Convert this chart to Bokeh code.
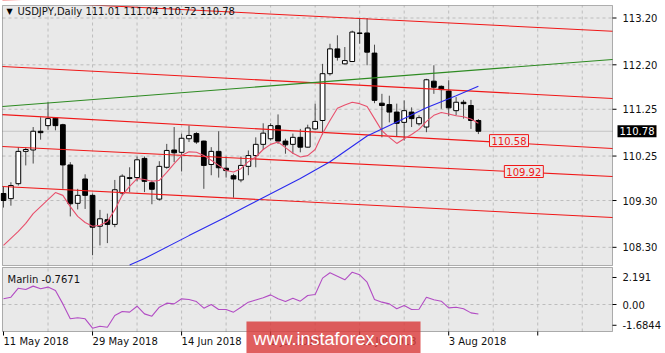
from bokeh.plotting import figure
from bokeh.models import ColumnDataSource, Label, Range1d, BoxAnnotation
from bokeh.embed import file_html
from bokeh.resources import INLINE

# ---------------- data ----------------
opens = [109.45, 109.34, 109.66, 110.35, 110.38, 110.78, 110.90, 111.06, 110.92, 110.06,
         109.24, 109.76, 109.41, 108.75, 108.89, 108.79, 109.46, 109.77, 109.79, 110.20,
         109.68, 109.33, 110.01, 110.38, 110.33, 110.62, 110.73, 110.57, 110.07, 110.35,
         109.99, 109.83, 109.74, 110.03, 110.26, 110.50, 110.62, 110.90, 110.57, 110.50,
         110.65, 110.44, 110.83, 111.01, 112.01, 112.54, 112.22, 112.27, 112.88, 112.88,
         112.45, 111.38, 111.35, 111.19, 110.97, 111.19, 110.94, 110.87, 111.85, 111.74,
         111.64, 111.22, 111.40, 111.33, 111.01]
highs = [109.60, 109.69, 110.44, 110.43, 110.87, 111.08, 111.40, 111.08, 110.94, 110.12,
         109.55, 109.86, 109.45, 109.10, 109.02, 109.74, 109.86, 110.01, 110.24, 110.24,
         109.73, 110.14, 110.51, 110.87, 110.73, 110.90, 110.76, 110.58, 110.44, 110.78,
         110.24, 109.87, 110.24, 110.37, 110.65, 110.95, 110.95, 111.14, 110.62, 110.73,
         110.83, 110.92, 111.37, 112.22, 112.65, 112.83, 112.58, 112.93, 113.18, 113.20,
         112.63, 111.58, 111.54, 111.37, 111.44, 111.29, 111.12, 111.90, 112.19, 111.76,
         111.87, 111.51, 111.45, 111.45, 111.04]
lows = [109.15, 109.19, 109.62, 110.05, 110.09, 110.60, 110.81, 110.80, 109.55, 108.96,
        109.11, 109.12, 108.13, 108.34, 108.39, 108.73, 109.41, 109.48, 109.71, 109.48,
        109.22, 109.30, 109.98, 110.12, 109.92, 110.55, 110.51, 109.55, 109.84, 109.79,
        109.79, 109.36, 109.69, 109.84, 110.01, 110.38, 110.58, 110.51, 110.30, 110.30,
        110.33, 110.43, 110.81, 110.71, 111.97, 112.29, 112.21, 112.26, 112.65, 112.19,
        111.38, 110.65, 110.97, 110.67, 110.58, 110.87, 110.90, 110.76, 111.58, 111.26,
        111.10, 111.12, 111.05, 110.83, 110.72]
closes = [109.30, 109.62, 110.35, 110.39, 110.78, 110.75, 111.05, 110.90, 110.06, 109.23,
          109.41, 109.41, 108.73, 108.91, 108.79, 109.53, 109.82, 109.79, 110.17, 109.71,
          109.54, 110.03, 110.37, 110.32, 110.63, 110.69, 110.55, 110.05, 110.35, 110.00,
          109.94, 109.76, 110.05, 110.26, 110.50, 110.74, 110.90, 110.57, 110.49, 110.65,
          110.44, 110.85, 110.99, 112.01, 112.54, 112.36, 112.29, 112.90, 112.87, 112.47,
          111.44, 111.33, 111.19, 110.95, 111.22, 111.05, 111.07, 111.88, 111.72, 111.67,
          111.28, 111.40, 111.37, 111.01, 110.78]

ma_fast = [108.34, 108.49, 108.64, 108.81, 109.02, 109.17, 109.32, 109.47, 109.41, 109.17,
           108.96, 108.83, 108.75, 108.77, 108.85, 109.10, 109.41, 109.60, 109.77, 109.75,
           109.71, 109.73, 109.90, 110.09, 110.26, 110.34, 110.33, 110.26, 110.16, 110.05,
           109.94, 109.91, 109.98, 110.13, 110.23, 110.39, 110.50, 110.55, 110.43, 110.31,
           110.23, 110.26, 110.39, 110.73, 111.01, 111.27, 111.34, 111.40, 111.37, 111.31,
           111.05, 110.79, 110.65, 110.52, 110.62, 110.71, 110.82, 110.99, 111.12, 111.18,
           111.15, 111.11, 111.09, 111.04, 110.95]

ma_slow_idx = [17, 19, 25, 30, 33, 40, 44, 49, 53, 57, 61, 64]
ma_slow = [107.92, 108.06, 108.55, 108.95, 109.20, 109.77, 110.13, 110.68, 110.98, 111.28, 111.54, 111.74]

marlin = [0.46, 0.59, 1.32, 1.22, 1.49, 1.27, 1.41, 1.14, 0.05, -1.16,
          -1.08, -1.16, -1.92, -1.76, -1.84, -0.89, -0.57, -0.62, -0.14, -0.76,
          -0.95, -0.22, 0.11, 0.05, 0.46, 0.41, 0.24, -0.30, 0.00, -0.41,
          -0.41, -0.62, -0.22, 0.19, 0.37, 0.54, 0.78, 0.46, 0.24, 0.51,
          0.27, 0.73, 0.81, 2.14, 2.57, 2.30, 2.00, 2.62, 2.41, 1.81,
          0.41, 0.19, 0.05, -0.35, -0.08, -0.41, -0.38, 0.59, 0.38, 0.27,
          -0.27, -0.22, -0.35, -0.68, -0.77]

# trend / channel lines: prices at the left and right edge of the price pane
chan1 = [113.573, 112.918]
chan2 = [112.165, 111.480]
chan3 = [111.136, 110.410]
chan4 = [110.453, 109.813]
chan5 = [109.598, 108.937]
green_line = [111.310, 112.313]

price_ticks = [108.30, 109.30, 110.25, 111.25, 112.20, 113.20]
price_labels = ["108.30", "109.30", "110.25", "111.25", "112.20", "113.20"]
osc_ticks = [-1.6844, 0.0, 2.191]
osc_labels = ["-1.6844", "0.00", "2.191"]
date_idx = [0, 12, 24, 36, 48, 60]
date_labels = ["11 May 2018", "29 May 2018", "14 Jun 2018", "2 Jul 2018", "18 Jul 2018", "3 Aug 2018"]
axis_tick_idx = [0, 12, 24, 36, 48, 60, 72]
grid_idx = [6, 12, 18, 24, 30, 36, 42, 48, 54, 60, 66, 72, 78]

last_price = 110.78
level_a = 110.58
level_b = 109.92
title_text = "USDJPY,Daily  111.01 111.04 110.72 110.78"
osc_title = "Marlin -0.7671"

# ---------------- layout of the panes (in the plot's own units) ----------------
PANE_L, PANE_R = -0.135, 82.075          # price & oscillator panes, bar-index units
MAIN_TOP, MAIN_BOT = 113.467, 107.911    # price pane, price units
OSC_TOP, OSC_BOT = 3.0, -2.19            # oscillator pane, oscillator units
TICK_X = 0.54                            # 4 px in bar units
TICK_Y = 0.324                           # 4 px in oscillator units
LABEL_X = 83.42                          # x of right-axis labels
DATE_Y = -3.0                            # y of the date labels (osc units)

FONT = "DejaVu Sans"
BG = "#E9E9E9"
GRID = "#BDBDBD"
TXT = "#111111"
idx = list(range(len(opens)))

p = figure(width=665, height=353, x_range=Range1d(-0.4043, 89.218),
           y_range=Range1d(106.031, 113.574), toolbar_location=None,
           output_backend="svg", min_border=0, min_border_left=0, min_border_right=0,
           min_border_top=0, min_border_bottom=0, x_axis_location=None,
           y_axis_location=None, background_fill_color="white",
           border_fill_color="white", outline_line_color=None)
p.grid.visible = False
p.extra_y_ranges = {"osc": Range1d(-3.973, 24.649)}

# pane backgrounds
p.add_layout(BoxAnnotation(left=PANE_L, right=PANE_R, top=MAIN_TOP, bottom=MAIN_BOT,
                           fill_color=BG, fill_alpha=1, line_color=None, level="underlay"))
p.add_layout(BoxAnnotation(left=PANE_L, right=PANE_R, top=OSC_TOP, bottom=OSC_BOT,
                           y_range_name="osc", fill_color=BG, fill_alpha=1,
                           line_color=None, level="underlay"))

# grid lines (price pane)
p.segment(x0=grid_idx, y0=[MAIN_BOT] * len(grid_idx), x1=grid_idx, y1=[MAIN_TOP] * len(grid_idx),
          line_color=GRID, line_dash="3 3", line_width=1)
p.segment(x0=[PANE_L] * len(price_ticks), y0=price_ticks, x1=[PANE_R] * len(price_ticks),
          y1=price_ticks, line_color=GRID, line_dash="3 3", line_width=1)
# grid lines (oscillator pane)
p.segment(x0=grid_idx, y0=[OSC_BOT] * len(grid_idx), x1=grid_idx, y1=[OSC_TOP] * len(grid_idx),
          line_color=GRID, line_dash="3 3", line_width=1, y_range_name="osc")
p.segment(x0=[PANE_L], y0=[0.0], x1=[PANE_R], y1=[0.0], line_color=GRID,
          line_dash="3 3", line_width=1, y_range_name="osc")

# current price line
p.segment(x0=[PANE_L], y0=[last_price], x1=[PANE_R], y1=[last_price],
          line_color="#C4C4C4", line_width=1)

# candles
src = ColumnDataSource(dict(x=idx, h=highs, l=lows))
up = [i for i in idx if closes[i] >= opens[i]]
dn = [i for i in idx if closes[i] < opens[i]]
src_up = ColumnDataSource(dict(x=up, top=[closes[i] for i in up], bot=[opens[i] for i in up]))
src_dn = ColumnDataSource(dict(x=dn, top=[opens[i] for i in dn], bot=[closes[i] for i in dn]))
p.segment(x0="x", y0="l", x1="x", y1="h", source=src, line_color="#4A4A4A", line_width=1)
p.vbar(x="x", width=0.64, top="top", bottom="bot", source=src_up,
       fill_color="white", line_color="black", line_width=1)
p.vbar(x="x", width=0.64, top="top", bottom="bot", source=src_dn,
       fill_color="black", line_color="black", line_width=1)

# lines
edge_x = [PANE_L, PANE_R]
for ch in (chan1, chan2, chan3, chan4, chan5):
    p.line(edge_x, ch, line_color="#F01818", line_width=1.1)
p.line(edge_x, green_line, line_color="#2E8B22", line_width=1.1)
p.line(idx, ma_fast, line_color="#E8506C", line_width=1.1)
p.line(ma_slow_idx, ma_slow, line_color="#2A2AEE", line_width=1.1)

# oscillator
p.line(idx, marlin, line_color="#B24CC4", line_width=1.1, y_range_name="osc")

# cover anything above the price pane (the top channel line runs out of it)
p.add_layout(BoxAnnotation(bottom=MAIN_TOP, fill_color="white", fill_alpha=1,
                           line_color=None, level="annotation"))

# pane borders
p.add_layout(BoxAnnotation(left=PANE_L, right=PANE_R, top=MAIN_TOP, bottom=MAIN_BOT,
                           fill_color=None, fill_alpha=0, line_color="black", line_width=1,
                           level="overlay"))
p.add_layout(BoxAnnotation(left=PANE_L, right=PANE_R, top=OSC_TOP, bottom=OSC_BOT,
                           y_range_name="osc", fill_color=None, fill_alpha=0,
                           line_color="black", line_width=1, level="overlay"))

# right-axis ticks and labels
p.segment(x0=[PANE_R] * len(price_ticks), y0=price_ticks, x1=[PANE_R + TICK_X] * len(price_ticks),
          y1=price_ticks, line_color="black", line_width=1)
p.segment(x0=[PANE_R] * len(osc_ticks), y0=osc_ticks, x1=[PANE_R + TICK_X] * len(osc_ticks),
          y1=osc_ticks, line_color="black", line_width=1, y_range_name="osc")
for t, s in zip(price_ticks, price_labels):
    p.add_layout(Label(x=LABEL_X, y=t, text=s, text_align="left", text_baseline="middle",
                       text_font=FONT, text_font_size="10px", text_color=TXT, level="overlay"))
for t, s in zip(osc_ticks, osc_labels):
    p.add_layout(Label(x=LABEL_X, y=t, y_range_name="osc", text=s, text_align="left",
                       text_baseline="middle", text_font=FONT, text_font_size="10px",
                       text_color=TXT, level="overlay"))

# bottom date ticks and labels
p.segment(x0=axis_tick_idx, y0=[OSC_BOT] * len(axis_tick_idx), x1=axis_tick_idx,
          y1=[OSC_BOT - TICK_Y] * len(axis_tick_idx), line_color="black", line_width=1,
          y_range_name="osc")
for d, s in zip(date_idx, date_labels):
    p.add_layout(Label(x=d, y=DATE_Y, y_range_name="osc", text=s, text_align="left",
                       text_baseline="middle", text_font=FONT, text_font_size="10px",
                       text_color=TXT, level="overlay"))

# level labels and current price box
p.add_layout(Label(x=65.5, y=level_a, text="110.58", text_align="left", text_baseline="middle",
                   text_font=FONT, text_font_size="10px", text_color="#F01818",
                   background_fill_color=BG, border_line_color="#F01818", padding=2,
                   level="overlay"))
p.add_layout(Label(x=67.5, y=level_b, text="109.92", text_align="left", text_baseline="middle",
                   text_font=FONT, text_font_size="10px", text_color="#F01818",
                   background_fill_color=BG, border_line_color="#F01818", padding=2,
                   level="overlay"))
p.add_layout(Label(x=82.75, y=last_price, text="110.78", text_align="left", text_baseline="middle",
                   text_font=FONT, text_font_size="10px", text_color="white",
                   background_fill_color="black", padding=2, level="overlay"))

# titles
p.add_layout(Label(x=6, y=342, x_units="screen", y_units="screen", text="\u25BC",
                   text_align="left", text_baseline="middle", text_font=FONT,
                   text_font_size="8px", text_color="black", level="overlay"))
p.add_layout(Label(x=17, y=342, x_units="screen", y_units="screen", text=title_text,
                   text_align="left", text_baseline="middle", text_font=FONT,
                   text_font_size="10px", text_color=TXT, level="overlay"))
p.add_layout(Label(x=7, y=74, x_units="screen", y_units="screen", text=osc_title,
                   text_align="left", text_baseline="middle", text_font=FONT,
                   text_font_size="10px", text_color=TXT, level="overlay"))

# watermark
p.add_layout(Label(x=333, y=15, x_units="screen", y_units="screen", text="www.instaforex.com",
                   text_align="center", text_baseline="middle", text_font="Liberation Sans",
                   text_font_size="18px", text_color="white",
                   background_fill_color="#D93C3C", background_fill_alpha=0.82, padding=7,
                   level="overlay"))

open("out.html", "w").write(file_html(p, INLINE))
